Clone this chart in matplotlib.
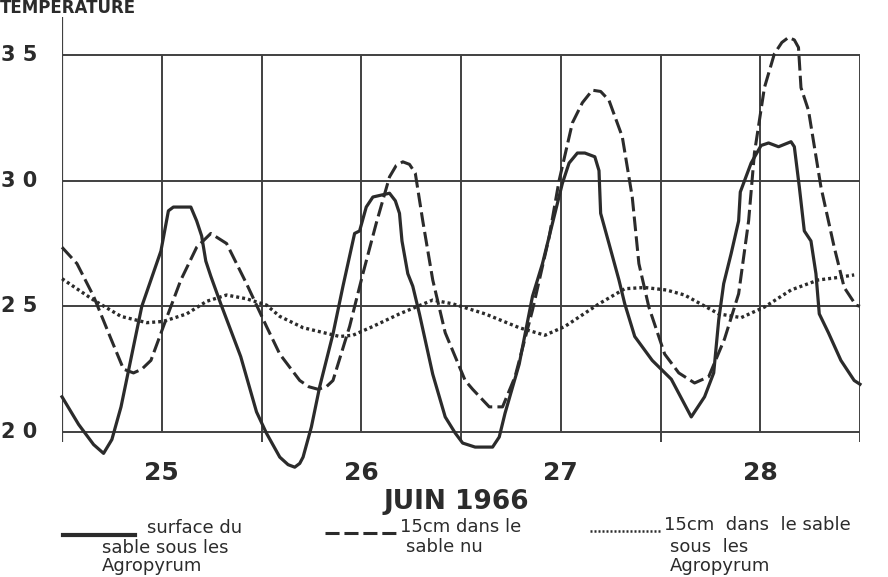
import matplotlib.pyplot as plt
from matplotlib.lines import Line2D

# Heures depuis le 25 juin 0h, températures en °C
heures_surface = [0.0, 2.0, 3.8, 5.0, 6.0, 7.1, 9.6, 11.9, 12.8, 13.4, 15.5, 16.2, 16.8, 17.3,
                  17.9, 19.1, 21.5, 23.4, 24.6, 26.2, 27.2, 28.0, 28.6, 29.0, 30.0, 31.0,
                  32.6, 33.8, 35.2, 35.8, 36.6, 37.4, 39.4, 40.1, 40.6, 40.9, 41.6, 42.2,
                  43.0, 44.6, 46.1, 47.3, 48.2, 49.7, 51.8, 52.6, 53.3, 55.0, 56.6, 57.8,
                  59.0, 60.2, 61.0, 62.0, 62.9, 64.1, 64.6, 64.8, 65.8, 67.0, 67.7, 68.9,
                  71.0, 73.3, 75.7, 77.3, 78.4, 79.0, 79.6, 80.5, 81.4, 81.6, 82.9, 84.1,
                  85.0, 86.2, 87.7, 88.1, 88.7, 89.3, 90.1, 90.7, 91.1, 92.2, 93.7, 95.3, 96.0]
temp_surface = [21.4, 20.3, 19.5, 19.15, 19.7, 21.0, 25.0, 27.2, 28.8, 28.95, 28.95, 28.4, 27.8,
                26.8, 26.2, 25.1, 23.0, 20.8, 19.95, 19.0, 18.7, 18.6, 18.75, 19.0, 20.2, 21.8,
                23.9, 25.8, 27.9, 28.0, 28.95, 29.35, 29.5, 29.2, 28.7, 27.6, 26.3, 25.8,
                24.7, 22.3, 20.6, 19.96, 19.56, 19.4, 19.4, 19.8, 20.75, 22.7, 25.4, 26.7,
                28.3, 29.9, 30.7, 31.1, 31.1, 30.95, 30.4, 28.7, 27.5, 26.05, 25.1, 23.8,
                22.85, 22.1, 20.6, 21.4, 22.35, 24.45, 25.9, 27.1, 28.4, 29.55, 30.7, 31.4,
                31.5, 31.35, 31.55, 31.35, 29.75, 28.0, 27.6, 26.3, 24.7, 23.95, 22.85, 22.05, 21.9]

heures_nu = [0.0, 1.8, 3.8, 5.9, 7.4, 8.6, 9.6, 10.7, 12.2, 14.3, 16.2, 17.9, 19.8, 22.2,
             24.6, 26.2, 28.6, 29.7, 30.8, 31.8, 32.6, 34.6, 36.2, 37.8, 39.4, 40.2, 41.0,
             41.8, 42.5, 43.4, 44.6, 46.1, 48.5, 49.4, 51.4, 53.0, 54.5, 56.6, 58.6, 59.8,
             61.4, 62.6, 63.8, 64.8, 65.8, 67.4, 68.6, 69.4, 70.6, 72.5, 74.2, 76.1, 77.8,
             79.7, 81.4, 82.6, 83.3, 84.5, 85.7, 86.6, 87.4, 88.1, 88.6, 88.9, 89.8, 91.3,
             92.9, 94.1, 95.5, 96.0]
temp_nu = [27.35, 26.7, 25.4, 23.7, 22.5, 22.35, 22.5, 22.85, 24.2, 26.05, 27.35, 27.9, 27.5,
           25.9, 24.2, 23.1, 22.05, 21.8, 21.7, 21.8, 22.05, 24.2, 26.3, 28.3, 30.15, 30.6,
           30.75, 30.65, 30.3, 28.4, 26.05, 23.95, 22.05, 21.7, 21.0, 21.0, 22.2, 24.85,
           27.75, 30.0, 32.3, 33.1, 33.6, 33.55, 33.2, 31.75, 29.35, 26.7, 24.97, 23.1,
           22.35, 21.95, 22.2, 23.7, 25.5, 28.4, 31.1, 33.7, 35.05, 35.5, 35.7, 35.6, 35.3,
           33.7, 32.8, 29.75, 27.35, 25.75, 25.05, 25.0]

heures_agro = [0.0, 3.8, 7.1, 10.2, 12.2, 15.0, 17.4, 19.8, 22.2, 24.6, 26.2, 29.0, 33.4,
               35.0, 37.4, 40.6, 44.6, 47.0, 50.9, 55.0, 58.1, 60.5, 64.6, 67.7, 70.1,
               72.7, 74.9, 79.0, 81.7, 84.5, 87.7, 91.0, 93.4, 95.3]
temp_agro = [26.1, 25.25, 24.6, 24.35, 24.4, 24.7, 25.2, 25.45, 25.3, 25.05, 24.6, 24.15, 23.8,
             23.85, 24.2, 24.7, 25.25, 25.1, 24.7, 24.15, 23.85, 24.2, 25.1, 25.7, 25.75,
             25.65, 25.45, 24.7, 24.55, 24.97, 25.65, 26.05, 26.15, 26.25]

jours = ['25', '26', '27', '28']
midi = [12, 36, 60, 84]
graduations = [20, 25, 30, 35]

encre = '#2b2b2b'
gris = '#404040'

W, H = 888, 577
fig = plt.figure(figsize=(W / 100, H / 100), dpi=100)
ax = fig.add_axes([62 / W, 0, (860 - 62) / W, 1])
px_deg = 25.133
ax.set_xlim(0, 96)
ax.set_ylim(20 - 145 / px_deg, 20 + 432 / px_deg)
ax.axis('off')

# quadrillage : minuit descend un peu sous 20, midi s'arrête à 20
for v in graduations:
    ax.hlines(v, 0, 96, color=gris, lw=1.4)
ax.hlines(20, -0.9, 0, color=gris, lw=1.4)
for h in range(0, 97, 12):
    bas = 19.6 if h % 24 == 0 else 20
    ax.vlines(h, bas, 35, color=gris, lw=1.4)
ax.vlines(0, 19.6, 36.5, color=gris, lw=1.6)

ax.plot(heures_surface, temp_surface, color=encre, lw=2.3, solid_joinstyle='round', clip_on=False)
ax.plot(heures_nu, temp_nu, color=encre, lw=2.2, linestyle=(0, (4.8, 1.7)), clip_on=False)
ax.plot(heures_agro, temp_agro, color=encre, lw=2.4, linestyle=(0, (0.9, 0.9)), clip_on=False)

for v in graduations:
    ax.text(-3.0, v, ' '.join(str(v)), ha='right', va='center', fontsize=15,
            fontweight='bold', color=encre)

for h, j in zip(midi, jours):
    ax.text(h, 18.37, j, ha='center', va='center', fontsize=18, fontweight='bold', color=encre)

ax.text(47.4, 17.21, 'JUIN 1966', ha='center', va='center', fontsize=19,
        fontweight='bold', color=encre)

fig.text(0.0, 1 - 13 / H, 'TEMPERATURE', ha='left', va='baseline', fontsize=12,
         fontweight='bold', color=encre)


# légende dessinée à la main, en pixels
def trait(x0, x1, y, **kw):
    fig.add_artist(Line2D([x0 / W, x1 / W], [1 - y / H, 1 - y / H],
                          transform=fig.transFigure, color=encre, **kw))


def ecrit(x, y, s):
    fig.text(x / W, 1 - y / H, s, ha='left', va='baseline', fontsize=13, color=encre)


trait(63, 135, 535, lw=3.0)
ecrit(147, 533, 'surface du')
ecrit(102, 553, 'sable sous les')
ecrit(102, 571, 'Agropyrum')

trait(325, 398, 533, lw=2.2, linestyle=(0, (4.6, 1.6)))
ecrit(400, 532, '15cm dans le')
ecrit(406, 552, 'sable nu')

trait(590, 662, 531, lw=1.8, linestyle=(0, (0.8, 0.8)))
ecrit(664, 530, '15cm  dans  le sable')
ecrit(670, 552, 'sous  les')
ecrit(670, 571, 'Agropyrum')

fig.savefig('out.png', dpi=100)
